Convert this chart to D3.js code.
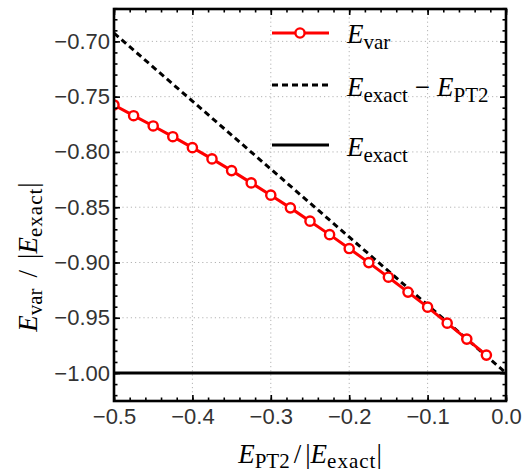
<!DOCTYPE html>
<html>
<head>
<meta charset="utf-8">
<script src="https://cdn.jsdelivr.net/npm/d3@7"></script>
<style>
  body { margin: 0; background: #fff; }
  .tick text { font-family: "Liberation Sans", Arial, sans-serif; font-size: 22px; fill: #333; }
  .ttl { font-family: "Liberation Serif", "Times New Roman", serif; font-size: 27px; fill: #000; }
</style>
</head>
<body>
<svg id="chart" width="524" height="474"></svg>
<script>
// data
var ept2 = [-0.5, -0.475, -0.45, -0.425, -0.4, -0.375, -0.35, -0.325, -0.3, -0.275,
            -0.25, -0.225, -0.2, -0.175, -0.15, -0.125, -0.1, -0.075, -0.05, -0.025];
var evar = [-0.7575, -0.7672, -0.7765, -0.7862, -0.7961, -0.8063, -0.8169, -0.8280, -0.8391, -0.8506,
            -0.8626, -0.8748, -0.8874, -0.9001, -0.9133, -0.9268, -0.9404, -0.9549, -0.9693, -0.9838];
var diffX = [-0.5, 0.0];
var diffY = [-0.6925, -1.0];
var exactX = [-0.5, 0.0];
var exactY = [-1.0, -1.0];
var xTicks = [-0.5, -0.4, -0.3, -0.2, -0.1, 0.0];
var yTicks = [-1.0, -0.95, -0.9, -0.85, -0.8, -0.75, -0.7];

var svg = d3.select("#chart"),
    margin = { top: 9, left: 114 },
    width = 392,
    height = 392;

var x = d3.scaleLinear().domain([-0.5, 0]).range([0, width]),
    y = d3.scaleLinear().domain([-1.0253, -0.6707]).range([height, 0]);

var xMinor = d3.range(-50, 1, 2).map(function (d) { return d / 100; }),
    yMinor = d3.range(-102, -66, 1).map(function (d) { return d / 100; });

svg.append("defs").append("clipPath")
    .attr("id", "clip")
    .append("rect")
    .attr("width", width)
    .attr("height", height);

var g = svg.append("g")
    .attr("transform", "translate(" + margin.left + "," + margin.top + ")");

// dotted grid
var grid = g.append("g").attr("stroke", "#b4b4b4").attr("stroke-width", 1).attr("stroke-dasharray", "1.2,3");
grid.selectAll(".gx").data(xTicks.slice(1, -1)).enter().append("line")
    .attr("x1", function (d) { return x(d); }).attr("x2", function (d) { return x(d); })
    .attr("y1", 0).attr("y2", height);
grid.selectAll(".gy").data(yTicks).enter().append("line")
    .attr("y1", function (d) { return y(d); }).attr("y2", function (d) { return y(d); })
    .attr("x1", 0).attr("x2", width);

var plot = g.append("g").attr("clip-path", "url(#clip)");

var line = d3.line()
    .x(function (d) { return x(d[0]); })
    .y(function (d) { return y(d[1]); });

plot.append("path")
    .datum(d3.zip(exactX, exactY))
    .attr("fill", "none").attr("stroke", "#000").attr("stroke-width", 3)
    .attr("d", line);

plot.append("path")
    .datum(d3.zip(diffX, diffY))
    .attr("fill", "none").attr("stroke", "#000").attr("stroke-width", 3)
    .attr("stroke-dasharray", "6,4")
    .attr("d", line);

var pts = d3.zip(ept2, evar);
plot.append("path")
    .datum(pts)
    .attr("fill", "none").attr("stroke", "#f00").attr("stroke-width", 3)
    .attr("d", line);

plot.selectAll(".pt").data(pts).enter().append("circle")
    .attr("cx", function (d) { return x(d[0]); })
    .attr("cy", function (d) { return y(d[1]); })
    .attr("r", 4.6)
    .attr("fill", "#fff").attr("stroke", "#f00").attr("stroke-width", 2.4);

// frame ticks (inside), labels left and bottom
function fmt(d) {
    return d3.format(".1f")(d);
}
function fmtY(d) {
    return d3.format(".2f")(d);
}
var axes = [
    g.append("g").attr("transform", "translate(0," + height + ")").call(d3.axisBottom(x).tickValues(xTicks).tickSize(-6).tickPadding(7).tickFormat(fmt)),
    g.append("g").attr("transform", "translate(0," + height + ")").call(d3.axisBottom(x).tickValues(xMinor).tickSize(-3.5).tickFormat("")),
    g.append("g").call(d3.axisTop(x).tickValues(xTicks).tickSize(-6).tickFormat("")),
    g.append("g").call(d3.axisTop(x).tickValues(xMinor).tickSize(-3.5).tickFormat("")),
    g.append("g").call(d3.axisLeft(y).tickValues(yTicks).tickSize(-6).tickPadding(4).tickFormat(fmtY)),
    g.append("g").call(d3.axisLeft(y).tickValues(yMinor).tickSize(-3.5).tickFormat("")),
    g.append("g").attr("transform", "translate(" + width + ",0)").call(d3.axisRight(y).tickValues(yTicks).tickSize(-6).tickFormat("")),
    g.append("g").attr("transform", "translate(" + width + ",0)").call(d3.axisRight(y).tickValues(yMinor).tickSize(-3.5).tickFormat(""))
];
axes.forEach(function (a) {
    a.select(".domain").remove();
    a.selectAll(".tick line").attr("stroke", "#000").attr("stroke-width", 1.6);
    a.attr("font-size", null).attr("font-family", null);
});

g.append("rect")
    .attr("width", width).attr("height", height)
    .attr("fill", "none").attr("stroke", "#000").attr("stroke-width", 2.6);

// axis titles
function addLabel(sel, sub1, sub2, gap) {
    sel.append("tspan").attr("font-style", "italic").text("E");
    sel.append("tspan").attr("font-size", "21px").attr("dy", 5).text(sub1);
    sel.append("tspan").attr("dy", -5).attr("dx", gap).text("/");
    sel.append("tspan").attr("dx", gap).text("|");
    sel.append("tspan").attr("font-style", "italic").text("E");
    sel.append("tspan").attr("font-size", "21px").attr("letter-spacing", 1).attr("dy", 5).text(sub2);
    sel.append("tspan").attr("dy", -5).text("|");
}
var xt = svg.append("text").attr("class", "ttl")
    .attr("x", margin.left + width / 2).attr("y", 463)
    .attr("text-anchor", "middle");
addLabel(xt, "PT2", "exact", 4);

var yt = svg.append("text").attr("class", "ttl")
    .attr("transform", "translate(37,257) rotate(-90)")
    .attr("text-anchor", "middle");
addLabel(yt, "var", "exact", 11);

// legend
var legend = [
    { label: [["E", 1], ["var", 2]], y: 33, color: "#f00", dash: null, marker: true, ty: 43 },
    { label: [["E", 1], ["exact", 2], ["\u2212", 0], ["E", 1], ["PT2", 2]], y: 85, color: "#000", dash: "6,4", marker: false, ty: 96 },
    { label: [["E", 1], ["exact", 2]], y: 145, color: "#000", dash: null, marker: false, ty: 156 }
];
var lg = svg.append("g");
legend.forEach(function (l) {
    lg.append("line")
        .attr("x1", 272).attr("x2", 329).attr("y1", l.y).attr("y2", l.y)
        .attr("stroke", l.color).attr("stroke-width", 3)
        .attr("stroke-dasharray", l.dash);
    if (l.marker) {
        lg.append("circle").attr("cx", 300).attr("cy", l.y).attr("r", 4.6)
            .attr("fill", "#fff").attr("stroke", l.color).attr("stroke-width", 2.4);
    }
    var t = lg.append("text").attr("class", "ttl").attr("x", 347).attr("y", l.ty);
    var shift = 0;
    l.label.forEach(function (p, i) {
        var ts = t.append("tspan").text(p[0]);
        var want = p[1] === 2 ? 6 : 0;
        ts.attr("dy", want - shift);
        shift = want;
        if (p[1] === 1) ts.attr("font-style", "italic");
        if (p[1] === 2) ts.attr("font-size", "21px");
        if (p[1] === 0) ts.attr("dx", 7);
        if (p[1] === 1 && i > 0) ts.attr("dx", 7);
    });
});
</script>
</body>
</html>
